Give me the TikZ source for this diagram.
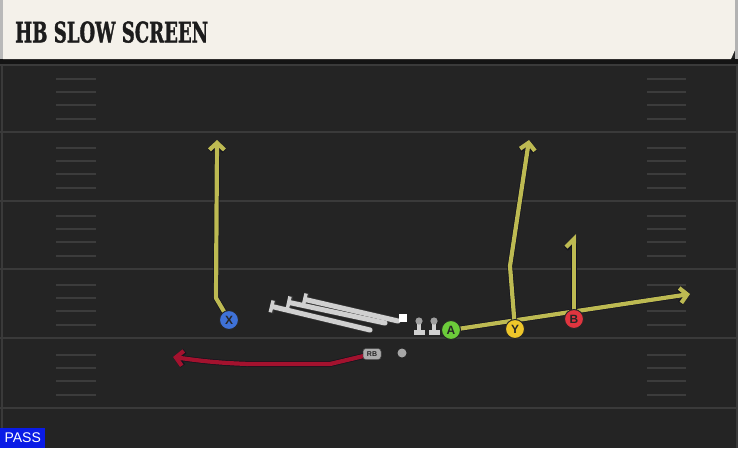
\documentclass[tikz,border=0pt]{standalone}
\usepackage{fontspec}
\usepackage{graphicx}
\usetikzlibrary{arrows.meta}
\newfontfamily\titlefont{DejaVu Serif}[FakeBold=1.6]
\newfontfamily\lblfont{Liberation Sans}
\definecolor{fieldbg}{HTML}{242424}
\definecolor{fieldline}{HTML}{3A3A3A}
\definecolor{hashcol}{HTML}{3C3C3C}
\definecolor{cream}{HTML}{F4F1EA}
\definecolor{routey}{HTML}{BDBA52}
\definecolor{routered}{HTML}{A3122E}
\definecolor{xblue}{HTML}{3F72D8}
\definecolor{agreen}{HTML}{6CCB3A}
\definecolor{yyellow}{HTML}{EEC62A}
\definecolor{bred}{HTML}{E0353F}
\definecolor{passblue}{HTML}{0A1BE6}
\definecolor{olgrey}{HTML}{D0D0D0}
\definecolor{titlecol}{HTML}{1C1C1C}
\definecolor{outl}{HTML}{14141E}
\pgfdeclarelayer{fieldlayer}
\pgfdeclarelayer{routelayer}
\pgfsetlayers{fieldlayer,routelayer,main}
\tikzset{
  yardline/.style={draw=fieldline, line width=2pt},
  hashmark/.style={draw=hashcol, line width=2pt},
  player/.style={circle, minimum size=19pt, inner sep=0pt, draw=black!85, line width=1pt,
    font=\lblfont\bfseries\fontsize{12}{12}\selectfont, text=black!85},
  route/.style={draw=routey, line width=4.2pt, line join=round,
    preaction={draw=outl, line width=5.6pt}},
  routetip/.style={-{Straight Barb[length=7pt,width=15pt]}},
  halftip/.style={-{Straight Barb[left,length=8pt,width=16pt]}},
  redroute/.style={draw=routered, line width=4.2pt, line join=round,
    preaction={draw=outl, line width=5.6pt}, -{Straight Barb[length=7pt,width=15pt]}},
  olline/.style={draw=olgrey, line width=5pt, line cap=round, -{Bar[width=12pt,line width=3.5pt]}},
  olback/.style={draw=black!80, line width=6.5pt, line cap=round, -{Bar[width=13.5pt,line width=5pt]}},
}
\begin{document}
\begin{tikzpicture}[x=1pt,y=-1pt]
\useasboundingbox (0,0) rectangle (738,448);
\begin{pgfonlayer}{fieldlayer}
% field
\fill[fieldbg] (0,0) rectangle (738,448);
\draw[yardline] (2,64) -- (2,448);
\draw[draw=fieldline, line width=1.5pt] (737,64) -- (737,448);
\draw[yardline] (0,65) -- (738,65);
\foreach \L in {132,201,269,338,408} {
  \draw[yardline] (0,\L) -- (738,\L);
  \foreach \k in {1,2,3,4} {
    \draw[hashmark] (56,{\L-\k*13.3}) -- (96,{\L-\k*13.3});
    \draw[hashmark] (647,{\L-\k*13.3}) -- (686,{\L-\k*13.3});
  }
}
% header
\fill[black!92] (0,58) rectangle (738,64);
\fill[cream] (3,0) -- (735,0) -- (735,50) -- (731,59) -- (3,59) -- cycle;
\fill[gray!55] (0,0) rectangle (3,59);
\fill[gray!60] (735,0) rectangle (738,59);
\end{pgfonlayer}
\node[anchor=south west, inner sep=0pt, text=titlecol] (title) at (15,43)
  {\resizebox{193pt}{21pt}{\titlefont\bfseries HB SLOW SCREEN}};
% PASS label
\node[fill=passblue, anchor=south west, minimum width=45pt, minimum height=20pt, inner sep=0pt,
  text=white, font=\lblfont\fontsize{14}{14}\selectfont] (pass) at (0,448) {PASS};
% offensive line blocks
\coordinate (l1s) at (370,330); \coordinate (l1e) at (270,306);
\coordinate (l2s) at (385,323); \coordinate (l2e) at (287,302);
\coordinate (l3s) at (398,321); \coordinate (l3e) at (303,299);
\foreach \s/\e in {l1s/l1e,l2s/l2e,l3s/l3e} {
  \draw[olback] (\s) -- (\e);
}
\foreach \s/\e in {l1s/l1e,l2s/l2e,l3s/l3e} {
  \draw[olline] (\s) -- (\e);
}
\node[fill=white, minimum size=8pt, inner sep=0pt] (C) at (403,318) {};
\foreach \x in {419,434} {
  \fill[olgrey] (\x-1.8,321) rectangle (\x+1.8,331);
  \fill[olgrey] (\x-5.5,330) rectangle (\x+5.5,335);
  \fill[gray!75] (\x,321) circle (3.6);
}
% players
\node[player, fill=xblue] (X) at (229,320) {X};
\node[player, fill=agreen] (A) at (451,330) {A};
\node[player, fill=yyellow] (Y) at (515,329) {Y};
\node[player, fill=bred] (B) at (574,319) {B};
\node[rounded corners=3pt, fill=gray!65, draw=black!70, line width=0.5pt, minimum width=18pt, minimum height=11pt,
  inner sep=0pt, font=\lblfont\bfseries\fontsize{7}{7}\selectfont, text=black!85] (RB) at (372,354) {RB};
\node[circle, fill=gray!70, minimum size=9pt, inner sep=0pt] (QB) at (402,353) {};
% routes
\coordinate (xk) at (216,298); \coordinate (xe) at (217,140);
\coordinate (yk) at (510,266); \coordinate (ye) at (529,140);
\coordinate (ae) at (690,294);
\coordinate (be) at (574,234);
\coordinate (r1) at (330,364); \coordinate (r2) at (250,364); \coordinate (re) at (173,357);
\begin{pgfonlayer}{routelayer}
\draw[route, routetip] (X.center) -- (xk) -- (xe);
\draw[route, routetip] (A.center) -- (ae);
\draw[route, routetip] (Y.center) -- (yk) -- (ye);
\draw[route, halftip] (B.center) -- (be);
\draw[redroute] (RB.center) -- (r1) -- (r2) .. controls (215,363) and (195,360) .. (re);
\end{pgfonlayer}
\end{tikzpicture}
\end{document}
